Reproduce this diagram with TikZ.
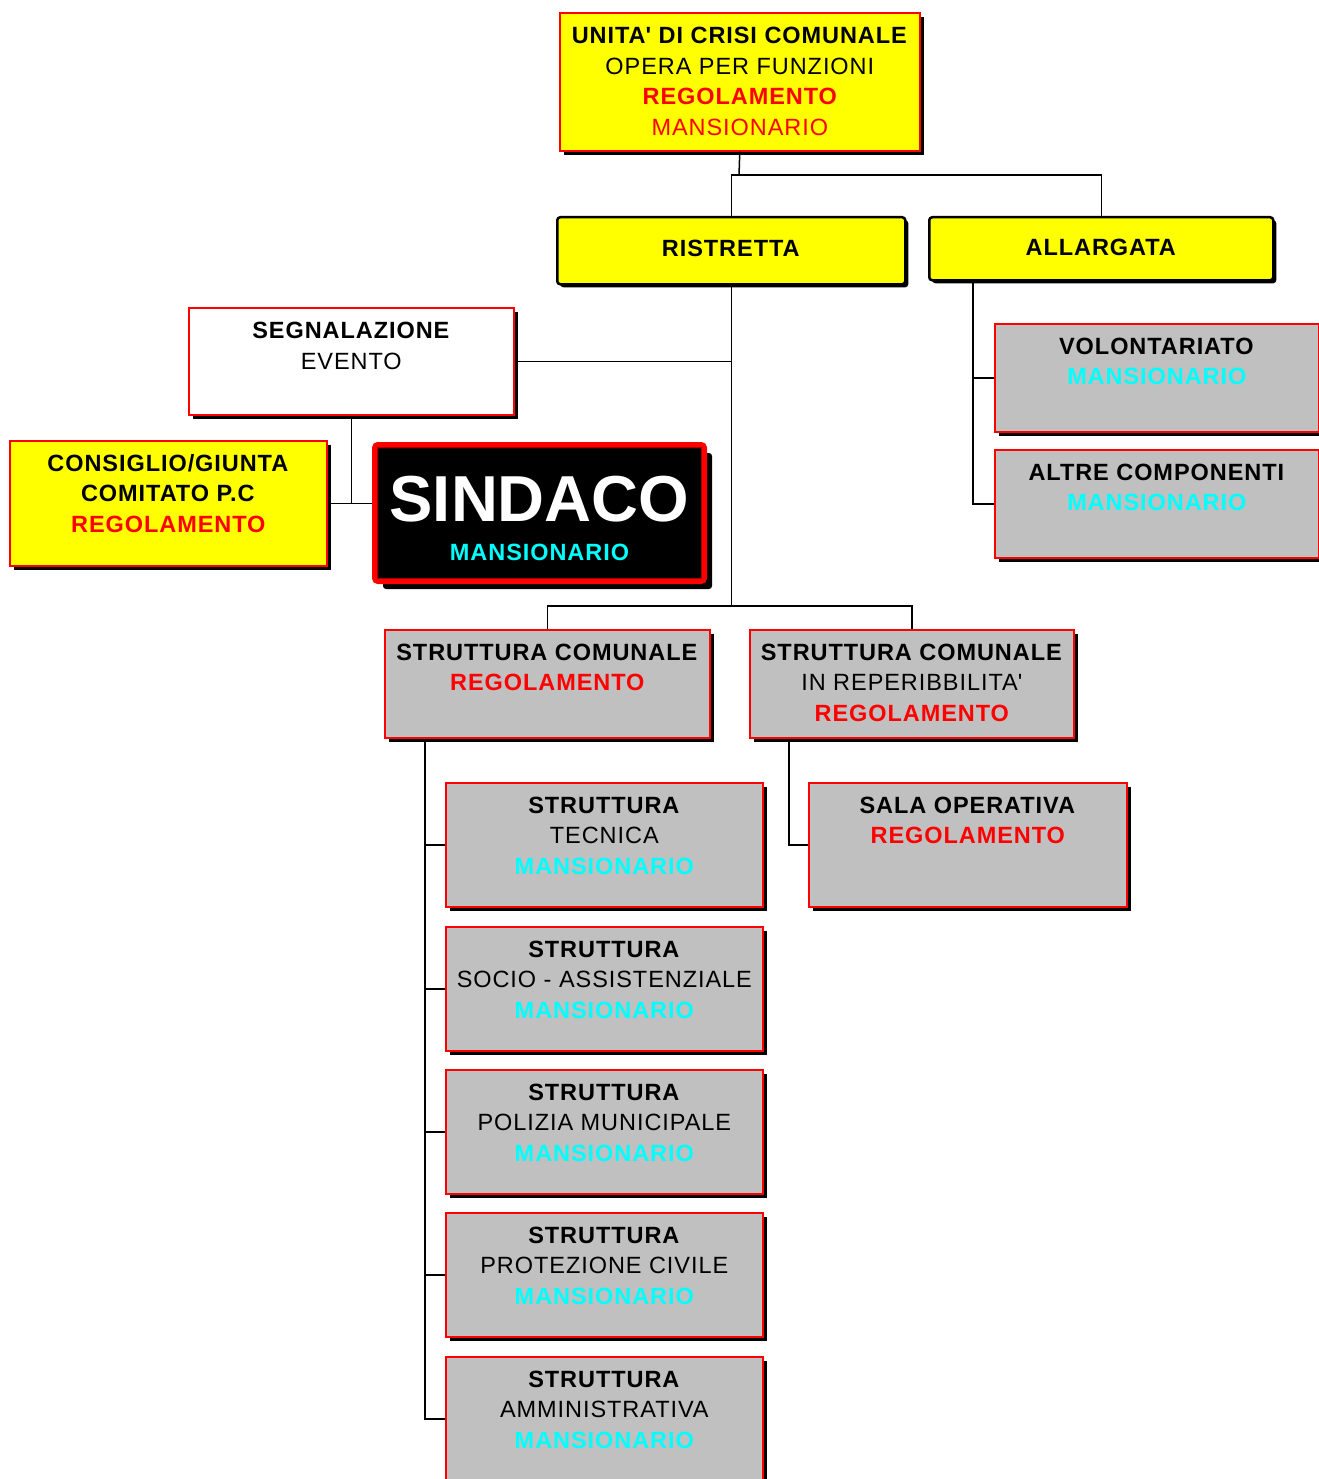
\documentclass[tikz,border=0pt]{standalone}
\usepackage{fontspec}
\setmainfont{Liberation Sans}[LetterSpace=4]
\newfontfamily\bigfont{Liberation Sans}
\usetikzlibrary{shadows}
\definecolor{cyanx}{RGB}{0,255,255}
\definecolor{yelx}{RGB}{255,255,0}
\definecolor{gryx}{RGB}{192,192,192}
\definecolor{redx}{RGB}{255,0,0}
\newcommand{\boxtxt}[4][31pt]{\begin{minipage}[t][#3][t]{#2}\centering\fontsize{23.5}{30.5}\selectfont\rule{0pt}{#1}#4\end{minipage}}
\newcommand{\regb}[1]{\textbf{\textcolor{redx}{#1}}}
\newcommand{\mansb}[1]{\textbf{\textcolor{cyanx}{#1}}}
\tikzset{
  ubox/.style={draw=redx, line width=1.6pt, inner sep=0pt, anchor=north west,
    drop shadow={shadow xshift=4pt, shadow yshift=-4pt, fill=black, opacity=1}},
  gbox/.style={ubox, fill=gryx},
  ybox/.style={ubox, fill=yelx},
  wbox/.style={ubox, fill=white},
  kbox/.style={draw=black, line width=2.5pt, rounded corners=3pt, fill=yelx, inner sep=0pt, anchor=north west,
    drop shadow={shadow xshift=3pt, shadow yshift=-3pt, fill=black, opacity=1}},
  sbox/.style={draw=redx, line width=6pt, rounded corners=3pt, fill=black, inner sep=0pt, anchor=north west,
    drop shadow={shadow xshift=8pt, shadow yshift=-8pt, fill=black, opacity=1}},
  conn/.style={line width=1.5pt, draw=black},
}
\begin{document}
\begin{tikzpicture}[x=1pt,y=-1pt]
\useasboundingbox (0,0) rectangle (1318,1479);
% nodes
\node[ybox] (unita) at (559,12) {\boxtxt{360pt}{138pt}{\textbf{UNITA\textquotesingle{} DI CRISI COMUNALE}\\OPERA PER FUNZIONI\\\regb{REGOLAMENTO}\\\textcolor{redx}{MANSIONARIO}}};
\node[kbox] (ristretta) at (556,216) {\boxtxt[39.5pt]{348pt}{67pt}{\textbf{RISTRETTA}}};
\node[kbox] (allargata) at (928,216) {\boxtxt[38.5pt]{344pt}{63pt}{\textbf{ALLARGATA}}};
\node[wbox] (segn) at (188,307) {\boxtxt{325pt}{107pt}{\textbf{SEGNALAZIONE}\\EVENTO}};
\node[ybox] (consiglio) at (9,440) {\boxtxt[30.5pt]{317pt}{125pt}{\textbf{CONSIGLIO/GIUNTA}\\\textbf{COMITATO P.C}\\\regb{REGOLAMENTO}}};
\node[sbox] (sindaco) at (372,442) {\begin{minipage}[t][136pt][t]{329pt}\centering
  {\bigfont\fontsize{65}{65}\selectfont\bfseries\color{white}\rule{0pt}{76pt}SINDACO\par}
  \fontsize{23.5}{39.5}\selectfont\mansb{MANSIONARIO}\end{minipage}};
\draw[draw=red!65!black, line width=1pt] ([xshift=5.5pt,yshift=-5.5pt]sindaco.north west) rectangle ([xshift=-5.5pt,yshift=5.5pt]sindaco.south east);
\node[gbox] (volo) at (994,323) {\boxtxt[30.5pt]{324pt}{108pt}{\textbf{VOLONTARIATO}\\\mansb{MANSIONARIO}}};
\node[gbox] (altre) at (994,449) {\boxtxt[30.5pt]{324pt}{108pt}{\textbf{ALTRE COMPONENTI}\\\mansb{MANSIONARIO}}};
\node[gbox] (strcom) at (384,629) {\boxtxt[30.5pt]{325pt}{108pt}{\textbf{STRUTTURA COMUNALE}\\\regb{REGOLAMENTO}}};
\node[gbox] (strrep) at (749,629) {\boxtxt[30.5pt]{324pt}{108pt}{\textbf{STRUTTURA COMUNALE}\\IN REPERIBBILITA\textquotesingle\\\regb{REGOLAMENTO}}};
\node[gbox] (tecnica) at (445,782) {\boxtxt[30.5pt]{317pt}{124pt}{\textbf{STRUTTURA}\\TECNICA\\\mansb{MANSIONARIO}}};
\node[gbox] (socio) at (445,926) {\boxtxt[30.5pt]{317pt}{124pt}{\textbf{STRUTTURA}\\SOCIO - ASSISTENZIALE\\\mansb{MANSIONARIO}}};
\node[gbox] (polizia) at (445,1069) {\boxtxt[30.5pt]{317pt}{124pt}{\textbf{STRUTTURA}\\POLIZIA MUNICIPALE\\\mansb{MANSIONARIO}}};
\node[gbox] (protez) at (445,1212) {\boxtxt[30.5pt]{317pt}{124pt}{\textbf{STRUTTURA}\\PROTEZIONE CIVILE\\\mansb{MANSIONARIO}}};
\node[gbox] (ammin) at (445,1356) {\boxtxt[30.5pt]{317pt}{124pt}{\textbf{STRUTTURA}\\AMMINISTRATIVA\\\mansb{MANSIONARIO}}};
\node[gbox] (sala) at (808,782) {\boxtxt[30.5pt]{318pt}{124pt}{\textbf{SALA OPERATIVA}\\\regb{REGOLAMENTO}}};
% connectors
\coordinate (jt) at (739,175);
\coordinate (jb) at (730,606);
\draw[conn] (unita.south) -- (jt);
\draw[conn] (ristretta.north) -- (ristretta.north |- jt) -- (allargata.north |- jt) -- (allargata.north);
\draw[conn] (ristretta.south) -- (ristretta.south |- jb);
\draw[conn] (strcom.north) -- (strcom.north |- jb) -- (strrep.north |- jb) -- (strrep.north);
\draw[conn] (segn.east) -- (segn.east -| ristretta.south);
\draw[conn] (segn.south) -- (segn.south |- consiglio.east);
\draw[conn] (consiglio.east) -- (sindaco.west |- consiglio.east);
\coordinate (av) at ([xshift=45pt]allargata.south west);
\draw[conn] (av) -- (av |- altre.west) -- (altre.west);
\draw[conn] (av |- volo.west) -- (volo.west);
\coordinate (sv) at ([xshift=41pt]strcom.south west);
\draw[conn] (sv) -- (sv |- ammin.west) -- (ammin.west);
\draw[conn] (sv |- tecnica.west) -- (tecnica.west);
\draw[conn] (sv |- socio.west) -- (socio.west);
\draw[conn] (sv |- polizia.west) -- (polizia.west);
\draw[conn] (sv |- protez.west) -- (protez.west);
\coordinate (rv) at ([xshift=40pt]strrep.south west);
\draw[conn] (rv) -- (rv |- sala.west) -- (sala.west);
\end{tikzpicture}
\end{document}
